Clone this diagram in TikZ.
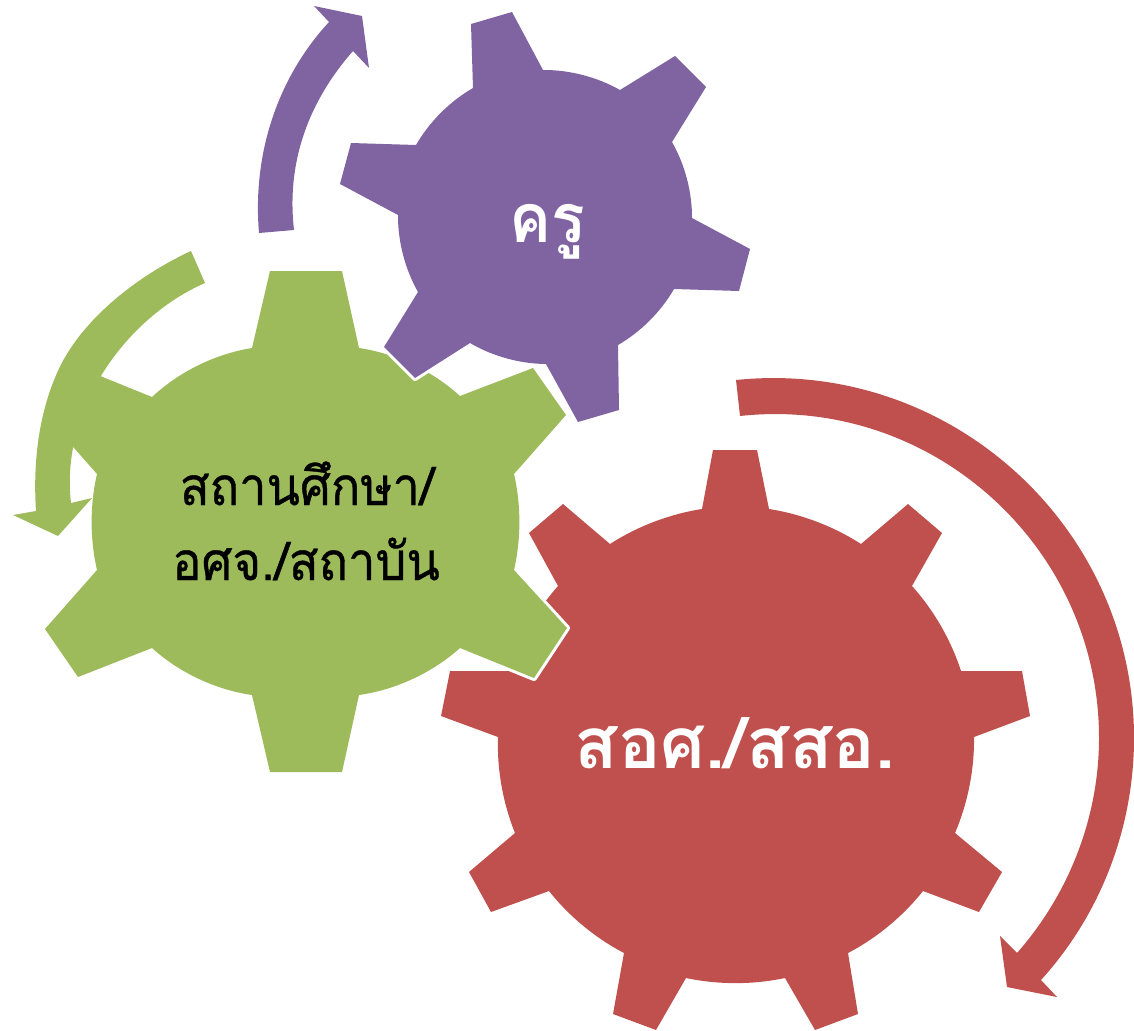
\documentclass[tikz,border=0pt]{standalone}
\usepackage{fontspec}
\newfontfamily\thaifont[Script=Thai]{Loma}
\newfontfamily\thainarrow[Script=Thai,FakeStretch=0.92]{Loma}
\newfontfamily\thaimed[Script=Thai,FakeBold=0.7,FakeStretch=0.92]{Loma}
\definecolor{gpurple}{HTML}{8064A2}
\definecolor{ggreen}{HTML}{9DBB5B}
\definecolor{gred}{HTML}{C0504D}
\tikzset{
  gear/.style={fill=#1,draw=none,looseness=0.85,preaction={draw=white,line width=6pt,line join=round}},
  sweep/.style={fill=#1,draw=none},
  gearlabel/.style={anchor=base,inner sep=0pt,align=center}
}
\begin{document}
\begin{tikzpicture}[x=1pt,y=-1pt]
\useasboundingbox (0,0) rectangle (1134,1030);
% red gear
\path[gear=gred]
 (713,450)--(757,450)--(769,509) to[bend left=12] (861,544)
 --(908,504)--(942,533)--(912,586) to[bend left=12] (961,671)
 --(1022,671)--(1030,716)--(974,737) to[bend left=12] (955,833)
 --(1002,872)--(979,912)--(923,891) to[bend left=12] (848,953)
 --(858,1014)--(815,1030)--(785,978) to[bend left=12] (686,978)
 --(656,1030)--(613,1014)--(624,953) to[bend left=12] (549,891)
 --(491,912)--(469,872)--(515,833) to[bend left=12] (498,737)
 --(441,716)--(450,671)--(510,671) to[bend left=12] (558,586)
 --(529,533)--(563,504)--(610,544) to[bend left=12] (702,509)--cycle;
% green gear
\path[gear=ggreen]
 (270,271)--(342,271)--(359,348) to[bend left=17] (460,396)
 --(533,368)--(566,415)--(514,474) to[bend left=13] (514,570)
 --(567,628)--(534,678)--(460,648) to[bend left=17] (359,695)
 --(342,772)--(270,772)--(252,695) to[bend left=17] (152,648)
 --(78,677)--(45,629)--(97,570) to[bend left=13] (97,474)
 --(45,415)--(78,367)--(152,397) to[bend left=17] (252,348)--cycle;
% purple gear
\path[gear=gpurple]
 (471,24)--(512,12)--(543,70) to[bend left=15] (620,90)
 --(675,56)--(706,87)--(672,142) to[bend left=15] (692,218)
 --(750,249)--(739,291)--(674,289) to[bend left=15] (618,345)
 --(619,410)--(578,422)--(546,364) to[bend left=15] (470,343)
 --(415,378)--(384,347)--(418,292) to[bend left=15] (398,215)
 --(340,184)--(351,143)--(416,145) to[bend left=15] (473,88)--cycle;
% circular arrows
\path[sweep=ggreen]
 (191,251) .. controls (141,274) and (81,318) .. (57,373)
 .. controls (38,416) and (33,465) .. (36,511)
 --(13,515)--(58,536)--(92,498)--(71,503)
 .. controls (60,410) and (125,318) .. (205,283)--cycle;
\path[sweep=gpurple]
 (259,233) .. controls (252,150) and (280,75) .. (329,22)
 --(314,6)--(362,16)--(369,68)--(353,51)
 .. controls (310,100) and (286,160) .. (294,230)--cycle;
\path[sweep=gred]
 (736,380) .. controls (948,358) and (1134,525) .. (1134,738)
 .. controls (1134,827) and (1101,914) .. (1041,980)
 --(1057,997)--(1007,987)--(1000,936)--(1017,953)
 .. controls (1069,894) and (1099,817) .. (1099,738)
 .. controls (1099,546) and (931,395) .. (740,416)--cycle;
% labels
\node[gearlabel,text=white,font=\thainarrow\bfseries\fontsize{68}{68}\selectfont] (teacher) at (547,242) {ครู};
\node[gearlabel,text=black,font=\thaimed\fontsize{53}{53}\selectfont] (school) at (307,505) {สถานศึกษา/};
\node[gearlabel,text=black,font=\thaimed\fontsize{53}{53}\selectfont] (office) at (306,580) {อศจ./สถาบัน};
\node[gearlabel,text=white,font=\thaifont\bfseries\fontsize{71}{71}\selectfont] (voc) at (735,768) {สอศ./สสอ.};
\end{tikzpicture}
\end{document}
